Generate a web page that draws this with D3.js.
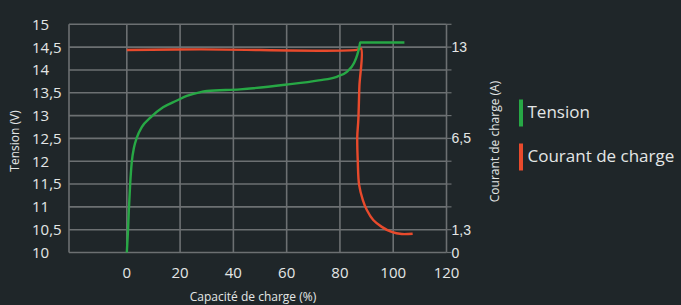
<!DOCTYPE html>
<html><head><meta charset="utf-8">
<script src="https://cdn.jsdelivr.net/npm/d3@7"></script>
<style>
html,body{margin:0;padding:0;background:#1f2629;}
svg{display:block;}
</style></head>
<body>
<svg id="c" width="681" height="305"></svg>
<script>
// ---- data ----
const xTicks = [0, 20, 40, 60, 80, 100, 120];
const voltTicks = [10, 10.5, 11, 11.5, 12, 12.5, 13, 13.5, 14, 14.5, 15];
const currentTicks = [0, 1.3, 6.5, 13];
const currentAnchorVolts = [10, 10.5, 12.5, 14.5];
const seriesNames = ["Tension", "Courant de charge"];

const tensionCap = [0, 0.375, 0.75, 1.24, 1.88, 2.7, 3.75, 5.74, 8.74, 13.6, 18.8, 22.5, 28.1, 30.1, 42.5, 59.4, 72, 78.8, 82.6, 85.3, 86.5, 87.3, 87.6, 104.2];
const tensionV   = [10, 10.4, 10.91, 11.48, 11.99, 12.3, 12.515, 12.76, 12.95, 13.18, 13.33, 13.43, 13.52, 13.54, 13.575, 13.675, 13.77, 13.85, 13.96, 14.15, 14.33, 14.51, 14.6, 14.6];

const courantCap = [0, 27.5, 86.3, 87.9, 87.3, 86.9, 86.5, 86.7, 87.2, 88.6, 90.1, 92.5, 95.7, 99.4, 103.2, 107.3];
const courantA   = [12.8, 12.84, 12.8, 12.9, 10.2, 7.81, 6.6, 5.17, 3.85, 2.99, 2.42, 1.85, 1.46, 1.17, 1.05, 1.07];

// ---- layout ----
const svg = d3.select("#c");
const W = 681, H = 305;
const L = 69, R = 446.5, T = 24.3, B = 252.5;
const xMin = -21.7;
const bg = "#1f2629", grid = "#6c7072", txt = "#e4e6e6";
const green = "#27a845", red = "#e84a2c";

svg.append("rect").attr("width", W).attr("height", H).attr("fill", bg);

const x = d3.scaleLinear().domain([xMin, 120]).range([L, R]);
const y = d3.scaleLinear().domain([10, 15]).range([B, T]);
const yA = d3.scaleLinear().domain(currentTicks).range(currentAnchorVolts.map(y));

// gridlines
const g = svg.append("g");
g.selectAll("line.h").data(voltTicks).join("line")
  .attr("x1", L).attr("x2", R).attr("y1", d => y(d)).attr("y2", d => y(d))
  .attr("stroke", grid).attr("stroke-width", 1.6);
g.selectAll("line.v").data([xMin].concat(xTicks)).join("line")
  .attr("x1", d => x(d)).attr("x2", d => x(d)).attr("y1", T).attr("y2", B)
  .attr("stroke", grid).attr("stroke-width", 1.6);

// right axis tick marks
g.selectAll("line.rt").data(voltTicks).join("line")
  .attr("x1", R).attr("x2", R + 5).attr("y1", d => y(d)).attr("y2", d => y(d))
  .attr("stroke", grid).attr("stroke-width", 1.2);

// left tick labels
svg.append("g").selectAll("text").data(voltTicks).join("text")
  .attr("x", 32).attr("y", d => y(d)).attr("dy", "0.36em")
  .attr("fill", txt).attr("font-family", "'Open Sans', sans-serif").attr("font-size", 15)
  .text(d => String(d).replace(".", ","));

// right tick labels
svg.append("g").selectAll("text").data(currentTicks).join("text")
  .attr("x", 451.5).attr("y", d => yA(d)).attr("dy", "0.36em")
  .attr("fill", txt).attr("font-family", "'Liberation Sans', Arial, sans-serif").attr("font-size", 14)
  .text(d => String(d).replace(".", ","));

// x tick labels
svg.append("g").selectAll("text").data(xTicks).join("text")
  .attr("x", d => x(d)).attr("y", 272.5).attr("dy", "0.36em").attr("text-anchor", "middle")
  .attr("fill", txt).attr("font-family", "'Open Sans', sans-serif").attr("font-size", 15)
  .text(d => d);

// axis titles
svg.append("text").attr("x", 253).attr("y", 297).attr("dy", "0.36em").attr("text-anchor", "middle")
  .attr("fill", txt).attr("font-family", "'Open Sans', sans-serif").attr("font-size", 12)
  .text("Capacité de charge (%)");
svg.append("text").attr("transform", "translate(15,141) rotate(-90)").attr("dy", "0.36em").attr("text-anchor", "middle")
  .attr("fill", txt).attr("font-family", "'Open Sans', sans-serif").attr("font-size", 12)
  .text("Tension (V)");
svg.append("text").attr("transform", "translate(495,141.5) rotate(-90)").attr("dy", "0.36em").attr("text-anchor", "middle")
  .attr("fill", txt).attr("font-family", "'Open Sans', sans-serif").attr("font-size", 12)
  .text("Courant de charge (A)");

// lines
const tension = tensionCap.map((c, i) => [c, tensionV[i]]);
const courant = courantCap.map((c, i) => [c, courantA[i]]);
const lineV = d3.line().x(d => x(d[0])).y(d => y(d[1])).curve(d3.curveMonotoneX);
const lineA = d3.line().x(d => x(d[0])).y(d => yA(d[1])).curve(d3.curveCatmullRom.alpha(0.5));

svg.append("path").attr("d", lineA(courant)).attr("fill", "none").attr("stroke", red).attr("stroke-width", 2.4);
svg.append("path").attr("d", lineV(tension)).attr("fill", "none").attr("stroke", green).attr("stroke-width", 2.4);

// legend
const leg = svg.append("g").selectAll("g").data(seriesNames).join("g")
  .attr("transform", (d, i) => `translate(519,${99.5 + i * 44})`);
leg.append("rect").attr("width", 4).attr("height", 27).attr("fill", (d, i) => i === 0 ? green : red);
leg.append("text").attr("x", 8.5).attr("y", 12.5).attr("dy", "0.36em")
  .attr("fill", txt).attr("font-family", "'Open Sans', sans-serif").attr("font-size", 17)
  .text(d => d);
</script>
</body></html>
